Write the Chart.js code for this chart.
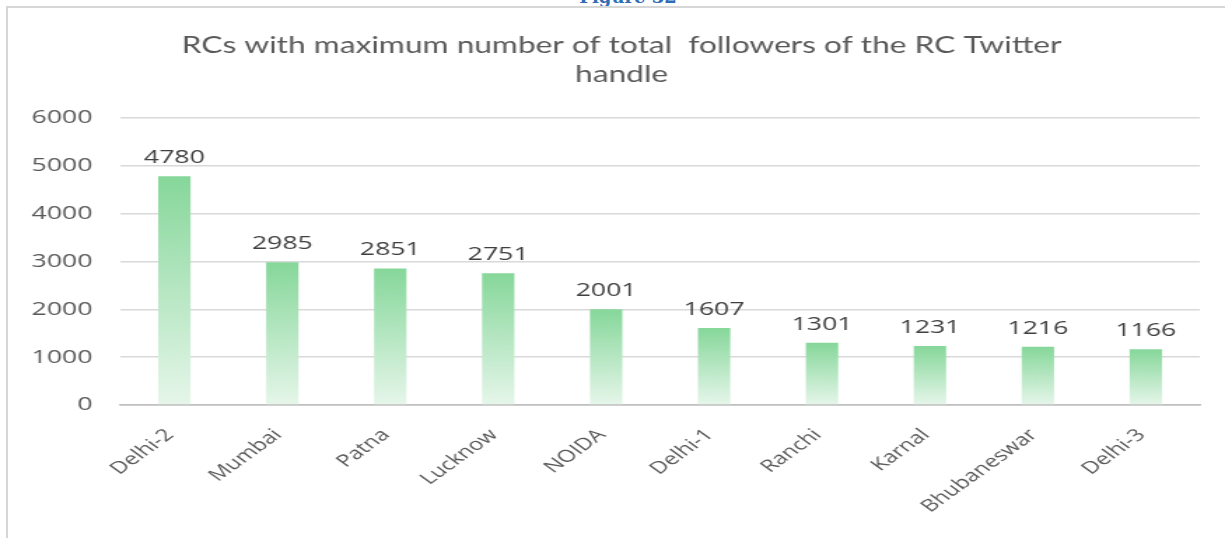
<!DOCTYPE html>
<html>
<head>
<meta charset="utf-8">
<script src="https://cdn.jsdelivr.net/npm/chart.js@4/dist/chart.umd.min.js"></script>
<style>
    body { margin: 0; background: #ffffff; overflow: hidden; }
    #page { position: relative; width: 1225px; height: 538px; }
    #figLabel {
        position: absolute; top: -14px; left: 578px; width: 100px; text-align: center;
        font: bold 18px "DejaVu Serif", serif; color: #2f6db5;
    }
    #frame {
        position: absolute; left: 6px; top: 6px; right: -4px; bottom: -4px;
        border-left: 2px solid #d6d6d6; border-top: 2px solid #d6d6d6;
    }
    #chart { position: absolute; left: 0; top: 0; }
</style>
</head>
<body>
<div id="page">
    <div id="figLabel">Figure 32</div>
    <div id="frame"></div>
    <canvas id="chart" width="875" height="538" style="width:1225px;height:538px"></canvas>
</div>
<script>
/**
 * categories and values
 */
const categories = ['Delhi-2', 'Mumbai', 'Patna', 'Lucknow', 'NOIDA', 'Delhi-1', 'Ranchi', 'Karnal', 'Bhubaneswar', 'Delhi-3'];
const followers = [4780, 2985, 2851, 2751, 2001, 1607, 1301, 1231, 1216, 1166];
const yMax = 6000;
const yStep = 1000;
const chartTitle = ['RCs with maximum number of total  followers of the RC Twitter', 'handle'];

// the original picture is stretched sideways, so the canvas is drawn narrow and widened by css
const TEXT_GREY = '#595959';

/**
 * green gradient for every bar, dark at the top and fading towards the axis
 */
function barGradient(context) {
    const chart = context.chart;
    const y = chart.scales.y;
    if (!chart.chartArea || !y) {
        return '#a8e2b5';
    }
    const top = y.getPixelForValue(context.raw);
    const base = y.getPixelForValue(0);
    const g = chart.ctx.createLinearGradient(0, top, 0, base);
    g.addColorStop(0, '#86d79a');
    g.addColorStop(1, '#e6f6ea');
    return g;
}

/**
 * writes the value above each bar
 */
const valueLabels = {
    id: 'valueLabels',
    afterDatasetsDraw(chart) {
        const ctx = chart.ctx;
        const meta = chart.getDatasetMeta(0);
        ctx.save();
        ctx.font = '19px "Open Sans"';
        ctx.fillStyle = '#404040';
        ctx.textAlign = 'center';
        ctx.textBaseline = 'bottom';
        meta.data.forEach((bar, i) => {
            ctx.fillText(String(chart.data.datasets[0].data[i]), bar.x, bar.y - 9);
        });
        ctx.restore();
    }
};

new Chart(document.getElementById('chart'), {
    type: 'bar',
    data: {
        labels: categories,
        datasets: [{
            data: followers,
            backgroundColor: barGradient,
            borderWidth: 0,
            barPercentage: 0.3,
            categoryPercentage: 1
        }]
    },
    options: {
        responsive: false,
        devicePixelRatio: 1,
        animation: false,
        layout: { padding: { left: 13, right: 0, top: 0, bottom: 0 } },
        plugins: {
            legend: { display: false },
            tooltip: { enabled: false },
            title: {
                display: true,
                text: chartTitle,
                color: TEXT_GREY,
                font: { family: 'Lato', size: 22.6, weight: 'normal', lineHeight: 1.28 },
                padding: { top: 31, bottom: 29 }
            }
        },
        scales: {
            x: {
                grid: { display: false },
                border: { display: true, color: '#bfbfbf', width: 1.5 },
                ticks: {
                    color: TEXT_GREY,
                    font: { family: 'Open Sans', size: 17 },
                    minRotation: 45,
                    maxRotation: 45,
                    padding: 12,
                    labelOffset: -3
                },
                afterFit(scale) { scale.height = 133; }
            },
            y: {
                min: 0,
                max: yMax,
                grid: {
                    color: ctx => (ctx.tick && ctx.tick.value === 0 ? '#bfbfbf' : '#d9d9d9'),
                    lineWidth: 1.5,
                    drawTicks: false
                },
                border: { display: false },
                ticks: {
                    stepSize: yStep,
                    color: TEXT_GREY,
                    font: { family: 'Open Sans', size: 19 },
                    padding: 20,
                    callback: v => String(v)
                },
                afterFit(scale) { scale.width = 73; }
            },
            // empty strip on the right so the title sits where it does in the picture
            yRight: {
                position: 'right',
                grid: { display: false },
                border: { display: false },
                ticks: { display: false },
                afterFit(scale) { scale.width = 18; }
            }
        }
    },
    plugins: [valueLabels]
});
</script>
</body>
</html>
